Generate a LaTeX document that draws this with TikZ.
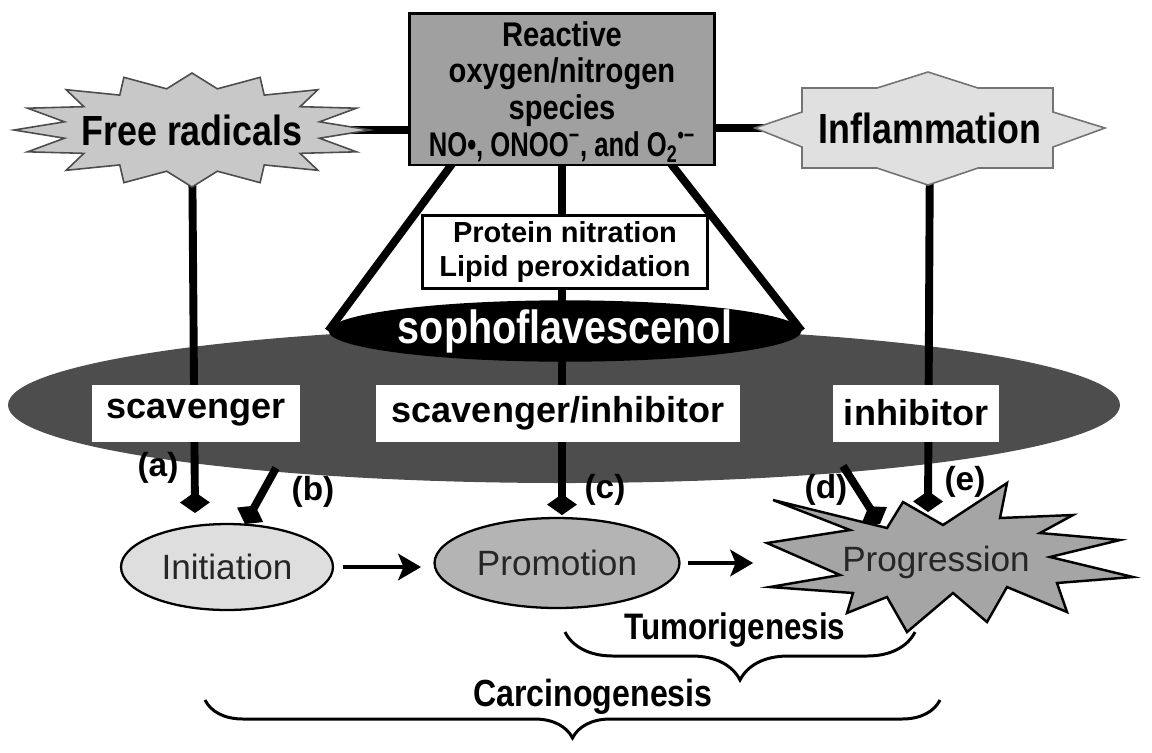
\documentclass[tikz,border=0pt]{standalone}
\usepackage{fontspec}
\setmainfont{Liberation Sans}
\newfontfamily\condfont[FakeStretch=0.85]{Liberation Sans}
\usetikzlibrary{arrows.meta,shapes.geometric,decorations.pathreplacing}
\definecolor{rosgray}{RGB}{160,160,160}
\definecolor{freegray}{RGB}{200,200,200}
\definecolor{inflgray}{RGB}{224,224,224}
\definecolor{ovalgray}{RGB}{77,77,77}
\definecolor{initgray}{RGB}{222,222,222}
\definecolor{promogray}{RGB}{180,180,180}
\definecolor{proggray}{RGB}{165,165,165}
\pgfdeclarelayer{bg}
\pgfdeclarelayer{links}
\pgfdeclarelayer{shapes}
\pgfsetlayers{bg,links,shapes,main}

\begin{document}
\begin{tikzpicture}[x=0.02cm,y=-0.02cm,
  cond/.style={font=\condfont\bfseries\fontsize{#1}{#1}\selectfont},
  link/.style={line width=4.5pt},
  tip/.style={-{Diamond[length=12pt,width=17pt]}},
  flow/.style={line width=2.8pt,-{Stealth[length=13pt,width=15pt,inset=3pt]}},
  labelbox/.style={fill=white,minimum height=1.14cm,inner sep=0pt,
    font=\bfseries\fontsize{20.5}{24}\selectfont},
  stage/.style={ellipse,draw,line width=1.3pt,inner sep=0pt,
    font=\fontsize{20}{24}\selectfont,text=black!85},
  letter/.style={font=\bfseries\fontsize{19}{22}\selectfont},
  brace/.style={decorate,decoration={brace,mirror,amplitude=#1},line width=1.7pt}]
  \useasboundingbox (0,0) rectangle (1152,752);

  \node[fill=rosgray,draw,line width=1.7pt,minimum width=6.1cm,minimum height=3.04cm,
    inner sep=0pt,align=center,font=\condfont\bfseries\fontsize{19.5}{21}\selectfont]
    (ros) at (562,89)
    {Reactive\\oxygen/nitrogen\\species\\\raisebox{0pt}[\height][0pt]{\scalebox{0.88}[1]{NO•, ONOO\textsuperscript{−}, and O\textsubscript{2}\textsuperscript{•−}}}};
  \node[fill=white,draw,line width=1.7pt,minimum width=5.72cm,minimum height=1.46cm,
    align=center,font=\bfseries\fontsize{16.5}{19}\selectfont]
    (prot) at (565,252) {Protein nitration\\Lipid peroxidation};
  \node[cond=24] (free) at (192,130) {Free radicals};
  \node[cond=24] (infl) at (930,128) {Inflammation};
  \node[ellipse,fill=black,text=white,minimum width=8.2cm,minimum height=1.16cm,
    inner sep=0pt,cond=26.5] (sopho) at (565,331) {sophoflavescenol};
  \node[labelbox,minimum width=4.16cm] (scav) at (196,413) {scavenger};
  \node[labelbox,minimum width=7.28cm] (scinh) at (558,413) {scavenger/inhibitor};
  \node[labelbox,minimum width=3.34cm] (inh) at (916,413) {inhibitor};
  \node[stage,fill=initgray,minimum width=4.24cm,minimum height=1.72cm]
    (init) at (227,567) {Initiation};
  \node[stage,fill=promogray,minimum width=4.9cm,minimum height=1.8cm]
    (promo) at (557,563) {Promotion};
  \node[font=\fontsize{20}{24}\selectfont,text=black!85,minimum width=7.3cm]
    (progr) at (936,562) {Progression};
  \node[letter] (la) at (158,468) {(a)};
  \node[letter] (lb) at (313,492) {(b)};
  \node[letter] (lc) at (605,490) {(c)};
  \node[letter] (ld) at (826,490) {(d)};
  \node[letter] (le) at (965,482) {(e)};
  \node[cond=21] (tumor) at (735,630) {Tumorigenesis};
  \node[cond=21.5] (carc) at (593,697) {Carcinogenesis};

  \coordinate (rl) at (455,160);
  \coordinate (rr) at (668,160);
  \coordinate (aend) at (195,513);
  \coordinate (bbeg) at (276,468);
  \coordinate (bend) at (245,524);
  \coordinate (dbeg) at (843,466);
  \coordinate (dend) at (880,524);
  \coordinate (eend) at (928,512);
  \coordinate (tl) at (565,632);
  \coordinate (tr) at (915,632);
  \coordinate (cl) at (205,700);
  \coordinate (cr) at (940,700);

  \begin{pgfonlayer}{bg}
    \fill[ovalgray] (564,405) ellipse [x radius=556,y radius=78];
  \end{pgfonlayer}

  \begin{pgfonlayer}{links}
    \draw[link] (ros.west |- free.center) -- (free.center);
    \draw[link] (ros.east |- infl.center) -- (infl.center);
    \draw[link] (rl) -- (sopho.west);
    \draw[link] (rr) -- (sopho.east);
    \draw[link,tip,shorten >=1pt] (ros.south) -- (ros.south |- promo.north);
    \draw[link,tip] (free.center) -- (aend);
    \draw[link,tip] (infl.center) -- (eend);
    \draw[link,tip] (bbeg) -- (bend);
    \draw[link,tip] (dbeg) -- (dend);
  \end{pgfonlayer}

  \begin{pgfonlayer}{shapes}
    \draw[fill=freegray,draw=black!70,line width=0.9pt,shift={(free.center)}]
      plot[samples at={0,...,31}]
        ({-ifthenelse(mod(\x,2)==0,178,130)*cos(\x*11.25)},
         {-ifthenelse(mod(\x,2)==0,57,42)*sin(\x*11.25)}) -- cycle;
    \draw[fill=inflgray,draw=black!55,line width=0.9pt,shift={(infl.center)}]
      (-175,0) -- (-128,-16) -- (-128,-40) -- (-53,-40) -- (-2,-56) -- (48,-40)
      -- (123,-40) -- (123,-16) -- (175,0) -- (123,19) -- (123,40) -- (48,40)
      -- (-2,57) -- (-53,40) -- (-128,40) -- (-128,19) -- cycle;
    \draw[fill=proggray,line width=1.4pt]
      (773,500) -- (887,528) -- (903,502) -- (943,525) -- (1007,483) -- (1000,518)
      -- (1073,515) -- (1040,533) -- (1120,540) -- (1050,557) -- (1133,577)
      -- (1057,583) -- (1067,612) -- (1007,587) -- (987,622) -- (953,593)
      -- (907,632) -- (887,597) -- (847,613) -- (853,593) -- (770,587)
      -- (840,575) -- (767,543) -- (850,530) -- cycle;
  \end{pgfonlayer}

  \draw[flow,shorten <=5pt,shorten >=7pt] (init.east) -- (init.east -| promo.west);
  \draw[flow,shorten <=4pt] (promo.east) -- (promo.east -| progr.west);
  \draw[brace=0.96cm] (tl) -- (tr);
  \draw[brace=0.76cm] (cl) -- (cr);
\end{tikzpicture}
\end{document}
